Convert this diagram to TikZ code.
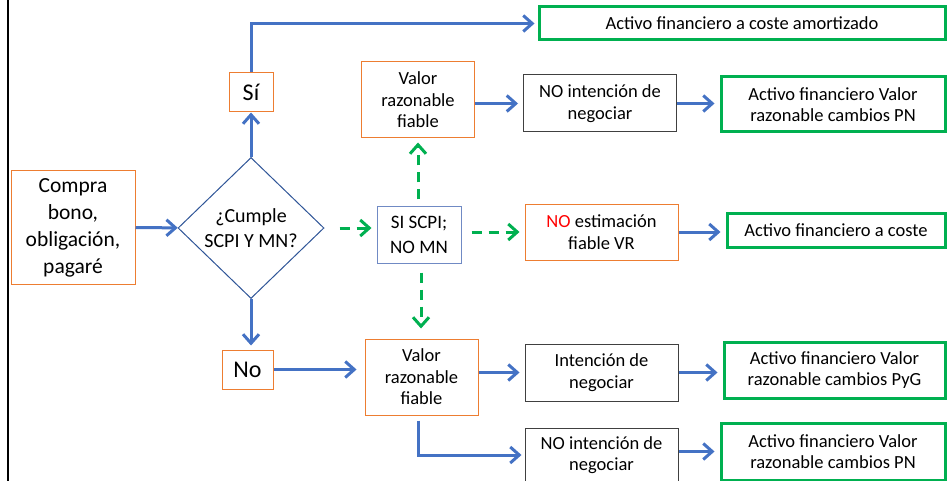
\documentclass[tikz,border=0pt]{standalone}
\usepackage{fontspec}
\setmainfont{Carlito}
\usetikzlibrary{shapes.geometric,arrows.meta}
\definecolor{flowblue}{RGB}{68,114,196}
\definecolor{diablue}{RGB}{47,85,151}
\definecolor{boxorange}{RGB}{237,125,49}
\definecolor{endgreen}{RGB}{0,176,80}
\definecolor{slate}{RGB}{112,138,196}
\tikzset{
  orangebox/.style={draw=boxorange, line width=1pt, align=center, inner sep=0pt},
  blackbox/.style={draw=black!75, line width=1pt, align=center, inner sep=0pt},
  greenbox/.style={draw=endgreen, line width=3pt, align=center, inner sep=0pt},
  flow/.style={flowblue, line width=3pt, -{Straight Barb[length=9pt,width=16pt]}},
  dflow/.style={endgreen, line width=3pt, dash pattern=on 10pt off 7pt, -{Straight Barb[length=9pt,width=16pt]}},
}
\begin{document}
\begin{tikzpicture}[x=1pt, y=-1pt, font=\fontsize{18.5}{21.5}\selectfont]
        \useasboundingbox (0,0) rectangle (947,481);
        % left rule
        \draw[black, line width=2.5pt] (8,0) -- (8,481);
        % start and decision
        \node[orangebox, minimum width=124pt, minimum height=113pt, font=\fontsize{21.5}{27}\selectfont] (compra) at (73,227.5) {Compra\\bono,\\obligación,\\pagaré};
        \node[draw=diablue, line width=1pt, shape=diamond, align=center, inner sep=0pt, minimum width=146pt, minimum height=141pt, font=\fontsize{20}{25}\selectfont] (dia) at (251,228) {¿Cumple\\SCPI Y MN?};
        \node[orangebox, minimum width=44pt, minimum height=39pt, font=\fontsize{24}{25}\selectfont] (si) at (251,92.5) {Sí};
        \node[orangebox, minimum width=51pt, minimum height=39pt, font=\fontsize{24}{25}\selectfont] (no) at (247.5,369.5) {No};
        % middle column
        \node[orangebox, minimum width=113pt, minimum height=76pt] (vrt) at (418,100) {Valor\\razonable\\fiable};
        \node[draw=slate, line width=1pt, align=center, inner sep=0pt, minimum width=84pt, minimum height=57pt, font=\fontsize{19}{25}\selectfont] (sci) at (419,234.5) {SI SCPI;\\NO MN};
        \node[orangebox, minimum width=113pt, minimum height=76pt] (vrb) at (421.5,377) {Valor\\razonable\\fiable};
        % intention column
        \node[blackbox, minimum width=153pt, minimum height=57pt] (nit) at (600,103.5) {NO intención de\\negociar};
        \node[orangebox, minimum width=153pt, minimum height=56pt] (nev) at (601.5,232) {\textcolor{red}{NO} estimación\\fiable VR};
        \node[blackbox, minimum width=153pt, minimum height=57pt] (int) at (601.5,372.5) {Intención de\\negociar};
        \node[blackbox, minimum width=153pt, minimum height=54pt] (nib) at (601.5,455) {NO intención de\\negociar};
        % results
        \node[greenbox, minimum width=406pt, minimum height=33pt] (aca) at (742,23.5) {Activo financiero a coste amortizado};
        \node[greenbox, minimum width=224pt, minimum height=55pt] (apt) at (833,104.5) {Activo financiero Valor\\razonable cambios PN};
        \node[greenbox, minimum width=218pt, minimum height=34pt] (ac) at (836,230) {Activo financiero a coste};
        \node[greenbox, minimum width=221pt, minimum height=56pt] (apy) at (834.5,370) {Activo financiero Valor\\razonable cambios PyG};
        \node[greenbox, minimum width=224pt, minimum height=57pt] (apb) at (833,451.5) {Activo financiero Valor\\razonable cambios PN};
        % connectors
        \draw[flow] (compra) -- (dia);
        \draw[flow] (dia.north) -- (si.south);
        \draw[flow, shorten >=4pt] (dia.south) -- (dia.south |- no.north);
        \draw[flow, shorten >=3pt] (si.north) |- (aca.west);
        \draw[flow, shorten >=8pt] (no.east) -- (vrb.west |- no.east);
        \draw[flow, shorten >=5pt] (vrt.east |- nit.west) -- (nit.west);
        \draw[flow, shorten >=5pt] (nit.east) -- (apt.west |- nit.east);
        \draw[flow, shorten >=5pt] (nev.east) -- (ac.west |- nev.east);
        \draw[flow, shorten >=5pt] (vrb.east |- int.west) -- (int.west);
        \draw[flow, shorten >=5pt] (int.east) -- (apy.west |- int.east);
        \draw[flow, shorten <=5pt, shorten >=3pt] ([xshift=-3.5pt]vrb.south) |- (nib.west);
        \draw[flow, shorten >=5pt] (nib.east |- apb.west) -- (apb.west);
        \draw[dflow, shorten <=15pt, shorten >=5pt] (dia.east) -- (sci.west |- dia.east);
        \draw[dflow, shorten <=6pt, shorten >=4pt] (sci.north -| vrt.south) -- (vrt.south);
        \draw[dflow, shorten <=10pt, shorten >=5pt] (sci.east |- nev.west) -- (nev.west);
        \draw[dflow, shorten <=9pt, shorten >=10pt] ([xshift=2pt]sci.south) -- ([xshift=2pt]sci.south |- vrb.north);
      \end{tikzpicture}
\end{document}
